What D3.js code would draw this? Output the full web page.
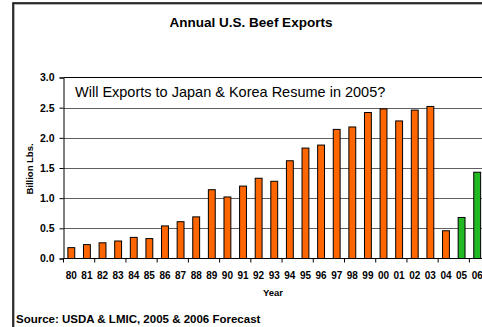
<!DOCTYPE html>
<html>
<head>
<meta charset="utf-8">
<script src="https://cdn.jsdelivr.net/npm/d3@7"></script>
<style>
  html, body { margin: 0; padding: 0; background: #fff; }
  svg { display: block; font-family: Arial, "Liberation Sans", sans-serif; }
</style>
</head>
<body>
<svg id="chart" width="482" height="327"></svg>
<script>
// Annual U.S. beef exports, billion lbs.
const years = ["80","81","82","83","84","85","86","87","88","89","90","91","92","93","94","95","96","97","98","99","00","01","02","03","04","05","06"];
const exportsBlbs = [0.18,0.23,0.26,0.29,0.35,0.33,0.54,0.61,0.69,1.14,1.02,1.20,1.33,1.28,1.62,1.83,1.88,2.14,2.18,2.42,2.48,2.28,2.46,2.52,0.46,0.68,1.43];
const forecastYears = ["05","06"];
const yTicks = [0,0.5,1.0,1.5,2.0,2.5,3.0];

const svg = d3.select("#chart");

// outer frame
svg.append("rect").attr("x", 14).attr("y", 4).attr("width", 500).attr("height", 400)
  .attr("fill", "none").attr("stroke", "#999").attr("stroke-width", 1.5);
svg.append("rect").attr("x", 13).attr("y", 3).attr("width", 500).attr("height", 400)
  .attr("fill", "none").attr("stroke", "#000").attr("stroke-width", 1.5);

const plot = { left: 63.5, top: 77.5, right: 485, bottom: 258.5 };

const x = d3.scaleBand().domain(years).range([plot.left, plot.right]).paddingInner(0.56).paddingOuter(0.28);
const xCat = d3.scaleBand().domain(years).range([plot.left, plot.right]);
const y = d3.scaleLinear().domain([0, 3]).range([plot.bottom, plot.top]);

// horizontal gridlines
svg.append("g").selectAll("line").data(yTicks.slice(1, -1)).join("line")
  .attr("x1", plot.left).attr("x2", plot.right)
  .attr("y1", d => Math.round(y(d)) + 0.5).attr("y2", d => Math.round(y(d)) + 0.5)
  .attr("stroke", "#5f5f5f").attr("stroke-width", 1);

// top border of plot area
svg.append("line").attr("x1", plot.left).attr("x2", plot.right)
  .attr("y1", plot.top).attr("y2", plot.top).attr("stroke", "#000").attr("stroke-width", 1);

// bars
svg.append("g").selectAll("rect").data(years).join("rect")
  .attr("x", d => x(d))
  .attr("width", x.bandwidth())
  .attr("y", (d, i) => y(exportsBlbs[i]))
  .attr("height", (d, i) => y(0) - y(exportsBlbs[i]))
  .attr("fill", d => forecastYears.includes(d) ? "#22b922" : "#ff6600")
  .attr("stroke", "#000").attr("stroke-width", 1);

// y axis
const yAxis = svg.append("g").attr("transform", `translate(${plot.left},0)`)
  .call(d3.axisLeft(y).tickValues(yTicks).tickFormat(d3.format(".1f")).tickSize(4).tickPadding(5));
yAxis.select(".domain").attr("stroke", "#000");
yAxis.selectAll("text").attr("font-size", 10.5).attr("font-weight", "bold").attr("fill", "#000");

// x axis: tick marks every second category, a label under each
const xAxisG = svg.append("g").attr("transform", `translate(0,${plot.bottom})`);
xAxisG.append("line").attr("x1", plot.left).attr("x2", plot.right).attr("y1", 0).attr("y2", 0).attr("stroke", "#000");
xAxisG.selectAll("line.tick").data(years.filter((d, i) => i % 2 === 0)).join("line")
  .attr("class", "tick")
  .attr("x1", d => xCat(d)).attr("x2", d => xCat(d))
  .attr("y1", 0).attr("y2", 4).attr("stroke", "#000");
xAxisG.selectAll("text").data(years).join("text")
  .attr("x", d => xCat(d) + xCat.bandwidth() / 2)
  .attr("y", 20)
  .attr("text-anchor", "middle")
  .attr("font-size", 10).attr("font-weight", "bold")
  .text(d => d);

// titles
svg.append("text").attr("x", 251).attr("y", 27).attr("text-anchor", "middle")
  .attr("font-size", 13.5).attr("font-weight", "bold").text("Annual U.S. Beef Exports");
svg.append("text").attr("x", 273).attr("y", 296).attr("text-anchor", "middle")
  .attr("font-size", 9.5).attr("font-weight", "bold").text("Year");
svg.append("text").attr("transform", "translate(33,169) rotate(-90)").attr("text-anchor", "middle")
  .attr("font-size", 9.5).attr("font-weight", "bold").text("Billion Lbs.");
svg.append("text").attr("x", 75).attr("y", 97)
  .attr("font-size", 14.5).text("Will Exports to Japan & Korea Resume in 2005?");
svg.append("text").attr("x", 16).attr("y", 323)
  .attr("font-size", 11.5).attr("font-weight", "bold").text("Source: USDA & LMIC, 2005 & 2006 Forecast");
</script>
</body>
</html>
